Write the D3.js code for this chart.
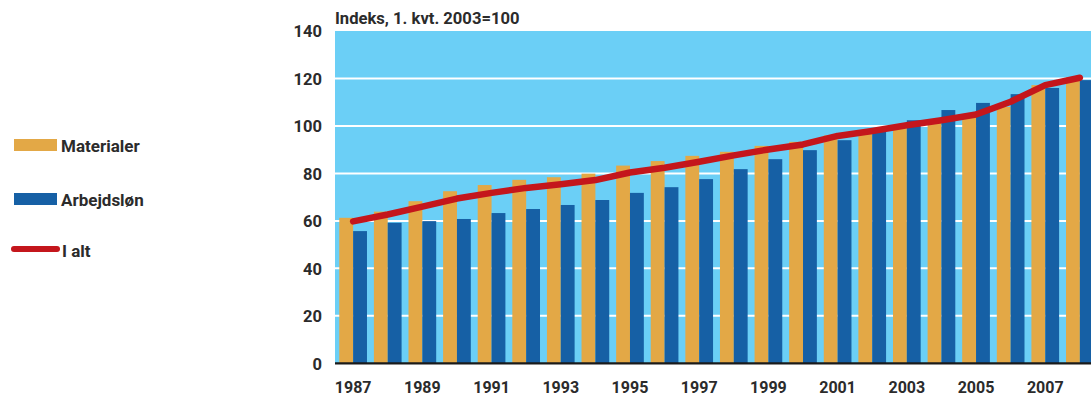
<!DOCTYPE html>
<html>
<head>
<meta charset="utf-8">
<script src="https://cdn.jsdelivr.net/npm/d3@7/dist/d3.min.js"></script>
<style>
  html, body { margin: 0; padding: 0; background: #fff; }
  svg { display: block; }
  text { font-family: Roboto, "DejaVu Sans Condensed", sans-serif; font-weight: bold; fill: #2b2b2b; }
</style>
</head>
<body>
<svg id="chart" width="1091" height="400"></svg>
<script>
// Byggekostnadsindeks, årsgjennomsnitt
const years = [1987, 1988, 1989, 1990, 1991, 1992, 1993, 1994, 1995, 1996, 1997,
               1998, 1999, 2000, 2001, 2002, 2003, 2004, 2005, 2006, 2007, 2008];
const materialer = [61.3, 63.9, 68.3, 72.5, 75.1, 77.3, 78.4, 79.9, 83.3, 85.2, 87.4,
                    89.1, 91.6, 93.3, 96.0, 97.3, 99.0, 101.2, 103.5, 108.0, 117.2, 120.4];
const arbeidslonn = [55.7, 59.2, 59.9, 60.8, 63.3, 65.0, 66.7, 68.8, 71.8, 74.2, 77.6,
                     81.8, 86.0, 89.8, 94.0, 97.5, 102.4, 106.7, 109.7, 113.4, 116.0, 119.3];
const iAlt = [59.8, 62.7, 66.0, 69.4, 71.8, 73.9, 75.4, 77.2, 80.4, 82.4, 84.9,
              87.6, 90.1, 92.2, 95.8, 97.9, 100.3, 102.4, 104.8, 110.2, 117.2, 120.3];
const yTicks = [0, 20, 40, 60, 80, 100, 120, 140];
const xTickYears = [1987, 1989, 1991, 1993, 1995, 1997, 1999, 2001, 2003, 2005, 2007];
const seriesNames = ["Materialer", "Arbejdsløn", "I alt"];

const colors = { mat: "#E3A846", arb: "#1660A5", total: "#C4161C", bg: "#6BCFF6" };

const svg = d3.select("#chart");
const plot = { left: 335, right: 1098, top: 31, bottom: 363.3 };

const x = d3.scaleBand().domain(years).range([plot.left, plot.right])
  .paddingInner(0.2).paddingOuter(0.124);
const x1 = d3.scaleBand().domain(["mat", "arb"]).range([0, x.bandwidth()]);
const y = d3.scaleLinear().domain([0, 140]).range([plot.bottom, plot.top]);

// plot background
svg.append("rect")
  .attr("x", plot.left).attr("y", y(140))
  .attr("width", 1091 - plot.left).attr("height", y(0) - y(140))
  .attr("fill", colors.bg);

// grid lines
svg.append("g").selectAll("line").data(yTicks.filter(d => d > 0 && d < 140)).join("line")
  .attr("x1", plot.left).attr("x2", 1091)
  .attr("y1", d => y(d)).attr("y2", d => y(d))
  .attr("stroke", "#fff").attr("stroke-width", 2);

// bars
const groups = svg.append("g").selectAll("g").data(years).join("g")
  .attr("transform", d => `translate(${x(d)},0)`);
groups.append("rect")
  .attr("x", x1("mat")).attr("width", x1.bandwidth())
  .attr("y", (d, i) => y(materialer[i])).attr("height", (d, i) => y(0) - y(materialer[i]))
  .attr("fill", colors.mat);
groups.append("rect")
  .attr("x", x1("arb")).attr("width", x1.bandwidth())
  .attr("y", (d, i) => y(arbeidslonn[i])).attr("height", (d, i) => y(0) - y(arbeidslonn[i]))
  .attr("fill", colors.arb);

// baseline
svg.append("line")
  .attr("x1", plot.left).attr("x2", 1091)
  .attr("y1", y(0)).attr("y2", y(0))
  .attr("stroke", "#1a1a1a").attr("stroke-width", 2.2);

// total index line
const line = d3.line()
  .x((d, i) => x(years[i]) + x.bandwidth() / 2)
  .y(d => y(d));
svg.append("path").datum(iAlt)
  .attr("d", line)
  .attr("fill", "none").attr("stroke", colors.total)
  .attr("stroke-width", 6.5).attr("stroke-linecap", "round").attr("stroke-linejoin", "round");

// y axis labels
const yAxis = d3.axisLeft(y).tickValues(yTicks).tickSize(0).tickPadding(0);
const gy = svg.append("g").attr("transform", `translate(322,0)`).call(yAxis);
gy.select(".domain").remove();
gy.attr("font-family", null).attr("font-size", null);
gy.selectAll("text").attr("font-size", 16.5).attr("dy", "0.36em").attr("fill", null);

// x axis labels
const xAxis = d3.axisBottom(x).tickValues(xTickYears).tickSize(0).tickPadding(0);
const gx = svg.append("g").attr("transform", `translate(0,387)`).call(xAxis);
gx.select(".domain").remove();
gx.attr("font-family", null).attr("font-size", null);
gx.selectAll("text").attr("font-size", 16).attr("dy", "0.36em").attr("fill", null);

// title
svg.append("text").attr("x", 335).attr("y", 24).attr("font-size", 16.6)
  .text("Indeks, 1. kvt. 2003=100");

// legend
const legend = svg.append("g");
legend.append("rect").attr("x", 14).attr("y", 139).attr("width", 43).attr("height", 12).attr("fill", colors.mat);
legend.append("rect").attr("x", 14).attr("y", 193).attr("width", 43).attr("height", 12).attr("fill", colors.arb);
legend.append("line").attr("x1", 14).attr("x2", 57).attr("y1", 249).attr("y2", 249)
  .attr("stroke", colors.total).attr("stroke-width", 6).attr("stroke-linecap", "round");
legend.selectAll("text.lab").data(seriesNames).join("text").attr("class", "lab")
  .attr("x", (d, i) => i === 2 ? 62 : 61)
  .attr("y", (d, i) => [152, 206, 257][i])
  .attr("font-size", 17)
  .text(d => d);
</script>
</body>
</html>
